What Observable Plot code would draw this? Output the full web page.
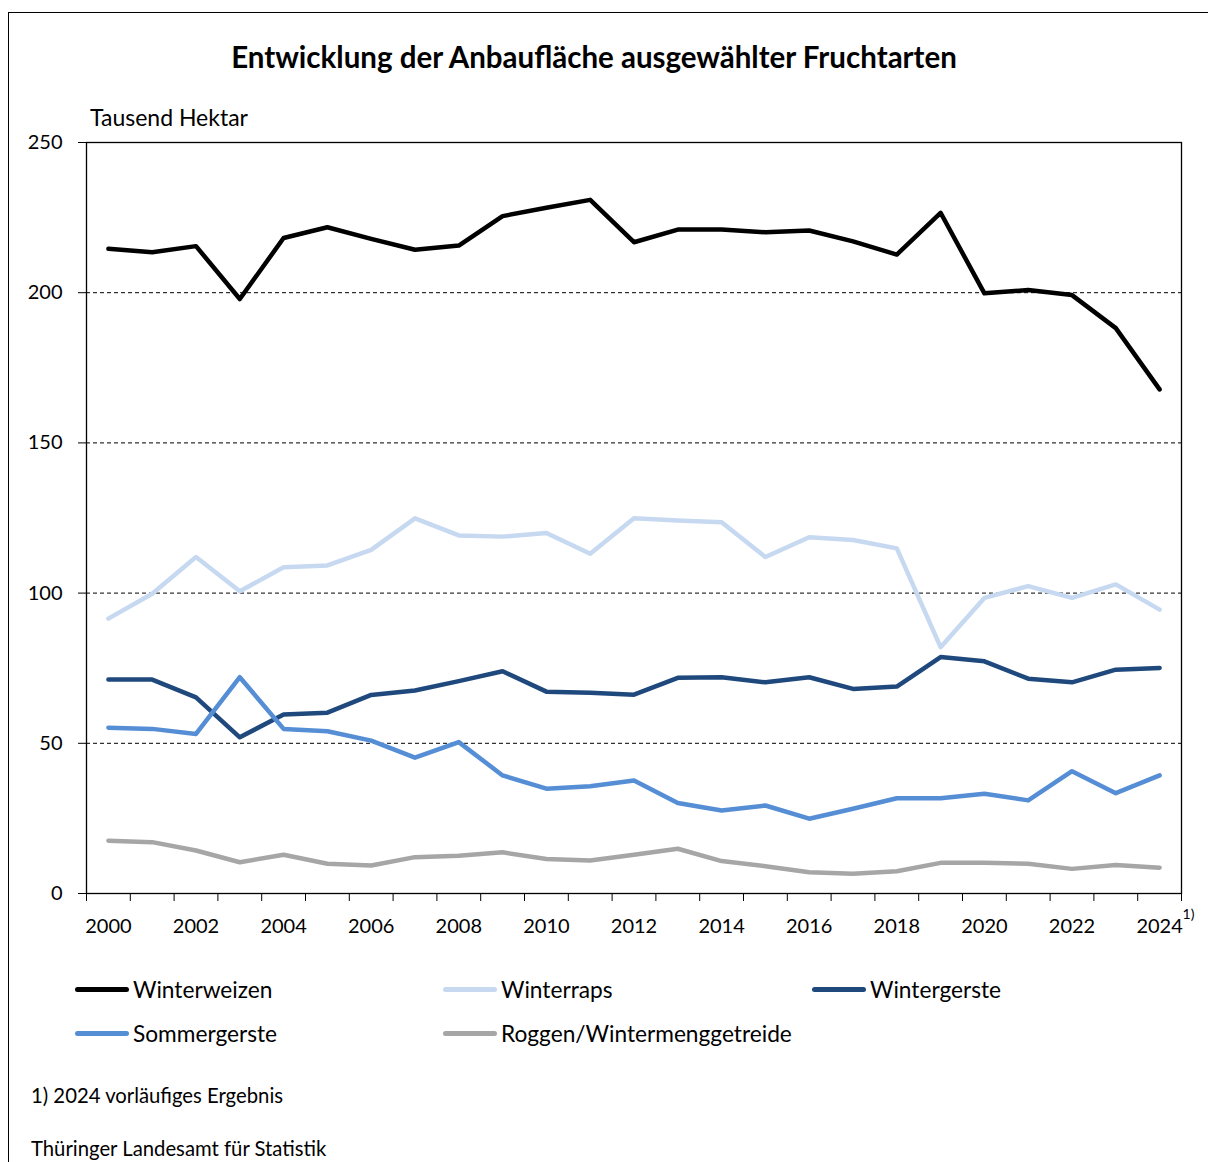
<!DOCTYPE html>
<html>
<head>
<meta charset="utf-8">
<script src="https://cdn.jsdelivr.net/npm/d3@7"></script>
<script src="https://cdn.jsdelivr.net/npm/@observablehq/plot@0.6"></script>
<style>
  html, body { margin: 0; padding: 0; background: #fff; }
  body { width: 1208px; height: 1162px; position: relative; overflow: hidden; font-family: Lato, "Open Sans", sans-serif; color: #000; }
  #outer { position: absolute; left: 8px; top: 12px; width: 1230px; height: 1200px; border: 1.5px solid #000; box-sizing: border-box; }
  #title { position: absolute; left: 0; width: 1188px; top: 39px; text-align: center; font-weight: 700; font-size: 29.5px; }
  #unit { position: absolute; left: 90px; top: 103px; font-size: 23px; }
  #chart { position: absolute; left: 0; top: 0; }
  .leg { position: absolute; display: flex; align-items: center; font-size: 22.7px; white-space: nowrap; }
  .sw { width: 54px; height: 5px; border-radius: 3px; margin-right: 4px; }
  .note { position: absolute; left: 31px; font-size: 20.3px; }
</style>
</head>
<body>
<div id="outer"></div>
<div id="chart"></div>
<div id="title">Entwicklung der Anbaufläche ausgewählter Fruchtarten</div>
<div id="unit">Tausend Hektar</div>
<div id="legend"></div>
<div class="note" style="top:1083px">1) 2024 vorläufiges Ergebnis</div>
<div class="note" style="top:1136px">Thüringer Landesamt für Statistik</div>
<script>
const years = [2000,2001,2002,2003,2004,2005,2006,2007,2008,2009,2010,2011,2012,2013,2014,2015,2016,2017,2018,2019,2020,2021,2022,2023,2024];
const yearLabels = [2000,2002,2004,2006,2008,2010,2012,2014,2016,2018,2020,2022,2024];
const yTicks = [0,50,100,150,200,250];
const gridTicks = [50,100,150,200];

const winterweizen = [214.6,213.5,215.5,197.9,218.2,221.8,217.9,214.3,215.7,225.5,228.3,230.9,216.8,221.0,221.0,220.1,220.7,217.1,212.7,226.6,199.8,200.9,199.2,188.2,167.8];
const winterraps = [91.5,99.8,112.0,100.6,108.6,109.2,114.4,124.9,119.2,118.8,120.0,113.1,124.9,124.2,123.6,112.0,118.6,117.7,114.9,82.0,98.4,102.3,98.4,102.9,94.5];
const wintergerste = [71.2,71.2,65.3,52.0,59.6,60.2,66.1,67.6,70.7,74.0,67.2,66.8,66.2,71.8,72.0,70.3,72.0,68.1,68.9,78.7,77.3,71.5,70.3,74.5,75.1];
const sommergerste = [55.2,54.8,53.1,72.0,54.8,54.0,50.9,45.2,50.4,39.3,34.9,35.7,37.6,30.1,27.6,29.3,24.9,28.2,31.7,31.7,33.2,31.0,40.7,33.4,39.3];
const roggen = [17.6,17.1,14.3,10.4,12.9,9.9,9.3,12.1,12.6,13.7,11.5,11.0,12.9,14.9,10.8,9.1,7.1,6.6,7.4,10.2,10.2,9.9,8.2,9.5,8.6];

const seriesNames = ["Winterweizen","Winterraps","Wintergerste","Sommergerste","Roggen/Wintermenggetreide"];
const seriesColors = ["#000000","#c6d9f1","#1f497d","#558ed5","#a6a6a6"];
const seriesValues = [winterweizen, winterraps, wintergerste, sommergerste, roggen];

const data = [];
seriesNames.forEach((name, i) => {
  years.forEach((yr, j) => data.push({series: name, year: yr, value: seriesValues[i][j]}));
});
const boundaries = years.map(y => y - 0.5).concat([years[years.length - 1] + 0.5]);

const plot = Plot.plot({
  width: 1208,
  height: 960,
  marginLeft: 86,
  marginRight: 27,
  marginTop: 142,
  marginBottom: 67,
  style: {fontFamily: "Lato, 'Open Sans', sans-serif", color: "#000", background: "transparent", overflow: "visible"},
  x: {domain: [years[0] - 0.5, years[years.length - 1] + 0.5], label: null},
  y: {domain: [0, 250], label: null},
  color: {domain: seriesNames, range: seriesColors},
  marks: [
    Plot.gridY(gridTicks, {stroke: "#000", strokeOpacity: 1, strokeWidth: 1, strokeDasharray: "4,3"}),
    Plot.frame({stroke: "#000", strokeWidth: 1.3}),
    Plot.axisY(yTicks, {tickSize: 8, tickPadding: 16, fontSize: 20, label: null, tickFormat: d => String(d)}),
    Plot.axisX(boundaries, {tickSize: 8, tickFormat: () => "", label: null}),
    Plot.axisX(yearLabels, {tickSize: 0, tickPadding: 25, fontSize: 20, label: null, tickFormat: d => String(d)}),
    Plot.text([years[years.length - 1]], {x: d => d, frameAnchor: "bottom", text: () => "1)", dx: 23, dy: 25, textAnchor: "start", fontSize: 14}),
    Plot.line(data, {x: "year", y: "value", z: "series", stroke: "series", strokeWidth: 4.5, strokeLinejoin: "round", strokeLinecap: "round"})
  ]
});
document.getElementById("chart").appendChild(plot);

const legendPos = [
  {left: 75, top: 976}, {left: 443, top: 976}, {left: 812, top: 976},
  {left: 75, top: 1020}, {left: 443, top: 1020}
];
const legend = document.getElementById("legend");
seriesNames.forEach((name, i) => {
  const item = document.createElement("div");
  item.className = "leg";
  item.style.left = legendPos[i].left + "px";
  item.style.top = legendPos[i].top + "px";
  const sw = document.createElement("div");
  sw.className = "sw";
  sw.style.background = seriesColors[i];
  const t = document.createElement("span");
  t.textContent = name;
  item.appendChild(sw);
  item.appendChild(t);
  legend.appendChild(item);
});
</script>
</body>
</html>
